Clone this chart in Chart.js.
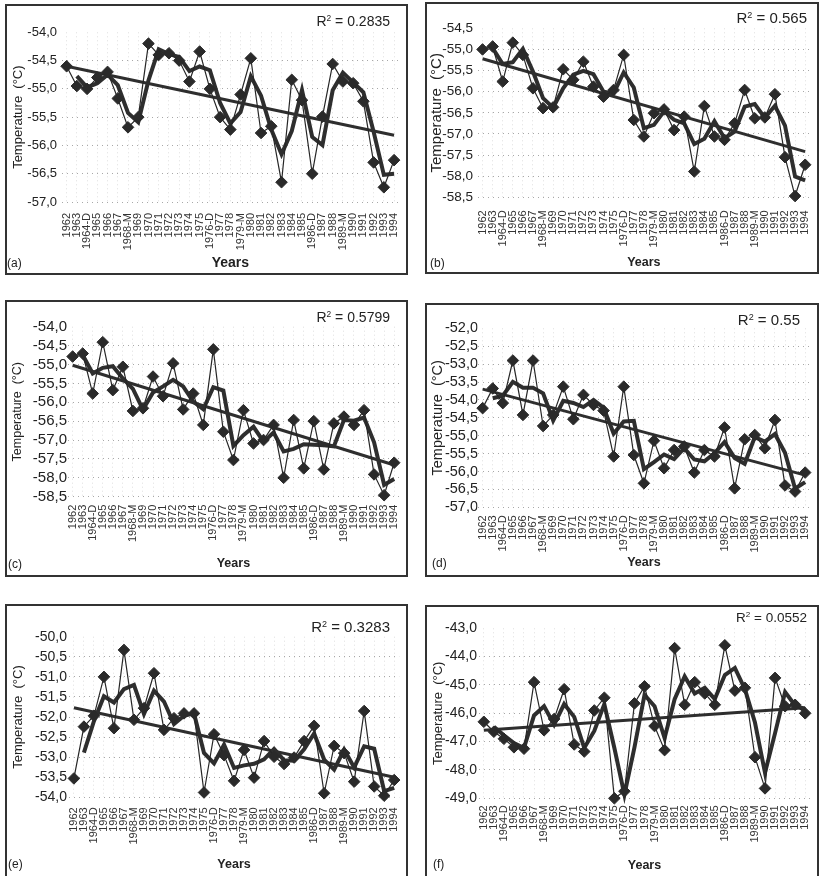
<!DOCTYPE html>
<html>
<head>
<meta charset="utf-8">
<script src="https://cdn.jsdelivr.net/npm/chart.js@4.4.0/dist/chart.umd.min.js"></script>
<style>
body { margin:0; width:819px; height:876px; overflow:hidden; background:#fff; position:relative;
       font-family:"Liberation Sans", Arial, sans-serif; color:#222; }
.panel { position:absolute; border:2px solid #333; box-sizing:border-box; background:#fff; }
.panel canvas { position:absolute; left:0; top:0; }
.r2, .tag { position:absolute; white-space:nowrap; line-height:1; }
.r2 sup { font-size:0.6em; vertical-align:0.6em; line-height:0; }
</style>
</head>
<body>
<script>
//categories
var years = ['1962','1963','1964-D','1965','1966','1967','1968-M','1969','1970','1971','1972','1973','1974','1975',
  '1976-D','1977','1978','1979-M','1980','1981','1982','1983','1984','1985','1986-D','1987','1988','1989-M',
  '1990','1991','1992','1993','1994'];

//temperature series (°C), one per panel
var tempA = [-54.6,-54.95,-55.0,-54.8,-54.7,-55.17,-55.68,-55.5,-54.2,-54.4,-54.37,-54.5,-54.87,-54.34,-55.0,-55.5,
  -55.72,-55.1,-54.46,-55.78,-55.66,-56.65,-54.84,-55.2,-56.5,-55.49,-54.56,-54.87,-54.9,-55.22,-56.3,-56.74,-56.26];
var tempB = [-55.0,-54.93,-55.76,-54.84,-55.13,-55.92,-56.39,-56.37,-55.47,-55.72,-55.29,-55.88,-56.12,-55.96,-55.13,-56.67,
  -57.06,-56.51,-56.42,-56.91,-56.59,-57.89,-56.34,-57.06,-57.14,-56.75,-55.96,-56.63,-56.61,-56.06,-57.55,-58.47,-57.73];
var tempC = [-54.79,-54.71,-55.77,-54.41,-55.68,-55.06,-56.23,-56.16,-55.32,-55.84,-54.97,-56.19,-55.77,-56.6,-54.6,-56.78,
  -57.53,-56.21,-57.09,-57.0,-56.6,-58.0,-56.47,-57.75,-56.5,-57.78,-56.56,-56.38,-56.6,-56.21,-57.91,-58.46,-57.6];
var tempD = [-54.23,-53.68,-54.09,-52.9,-54.42,-52.9,-54.73,-54.42,-53.63,-54.54,-53.86,-54.14,-54.3,-55.58,-53.63,-55.54,
  -56.33,-55.14,-55.91,-55.4,-55.3,-56.03,-55.4,-55.58,-54.77,-56.47,-55.1,-54.98,-55.35,-54.56,-56.39,-56.56,-56.03];
var tempE = [-53.53,-52.24,-51.97,-51.0,-52.28,-50.33,-52.07,-51.78,-50.91,-52.32,-52.03,-51.91,-51.91,-53.88,-52.43,-52.95,
  -53.59,-52.82,-53.51,-52.6,-52.99,-53.17,-53.01,-52.6,-52.22,-53.9,-52.72,-52.9,-53.61,-51.85,-53.73,-53.96,-53.57];
var tempF = [-46.3,-46.65,-46.9,-47.2,-47.25,-44.9,-46.6,-46.2,-45.15,-47.1,-47.35,-45.9,-45.45,-49.0,-48.75,-45.65,
  -45.05,-46.45,-47.3,-43.7,-45.7,-44.9,-45.3,-45.7,-43.6,-45.2,-45.1,-47.55,-48.65,-44.75,-45.75,-45.7,-46.0];

//linear trend, value at first and last year
var trendA = [-54.6, -55.82];
var trendB = [-55.22, -57.42];
var trendC = [-55.02, -57.66];
var trendD = [-53.7, -56.1];
var trendE = [-51.77, -53.5];
var trendF = [-46.6, -45.8];

//R squared labels
var r2Text = ['0.2835', '0.565', '0.5799', '0.55', '0.3283', '0.0552'];

//y axis range per panel: min, max, step
var yRangeA = [-57, -54, 0.5];
var yRangeB = [-58.5, -54.5, 0.5];
var yRangeC = [-58.5, -54, 0.5];
var yRangeD = [-57, -52, 0.5];
var yRangeE = [-54, -50, 0.5];
var yRangeF = [-49, -43, 1];

Chart.defaults.font.family = '"Liberation Sans", Arial, sans-serif';
Chart.defaults.color = '#222';

//layout of each panel on the page (pixels)
var panels = [
  {tag:'(a)', data:tempA, trend:trendA, r2:r2Text[0], y:yRangeA, box:[5,4,408,275], plotX:[61.5,401.9], plotY:[32.3,202],
   labelRight:57, xPad:11, tickFont:13, titleFont:13, titleCx:18, yearsFont:14, yearsY:263, r2Right:390, r2Y:21, r2Font:14, tagX:7, tagY:263},
  {tag:'(b)', data:tempB, trend:trendB, r2:r2Text[1], y:yRangeB, box:[425,2,819,274], plotX:[477.5,817], plotY:[28.3,197.3],
   labelRight:473, xPad:13, tickFont:13.5, titleFont:15, titleCx:437, yearsFont:12.5, yearsY:263, r2Right:807, r2Y:17, r2Font:15, tagX:430, tagY:263},
  {tag:'(c)', data:tempC, trend:trendC, r2:r2Text[2], y:yRangeC, box:[5,300,408,577], plotX:[67.6,401.8], plotY:[326.7,496.7],
   labelRight:67, xPad:8, tickFont:15, titleFont:12.5, titleCx:18, yearsFont:12.5, yearsY:564, r2Right:390, r2Y:317, r2Font:14, tagX:8, tagY:564},
  {tag:'(d)', data:tempD, trend:trendD, r2:r2Text[3], y:yRangeD, box:[425,303,819,577], plotX:[477.6,811.8], plotY:[328.3,507.3],
   labelRight:478, xPad:8, tickFont:14.5, titleFont:14.5, titleCx:438, yearsFont:12.5, yearsY:563, r2Right:800, r2Y:319, r2Font:15, tagX:432, tagY:563},
  {tag:'(e)', data:tempE, trend:trendE, r2:r2Text[4], y:yRangeE, box:[5,604,408,882], plotX:[68.9,403.1], plotY:[636.7,797.3],
   labelRight:67, xPad:10, tickFont:14, titleFont:13, titleCx:18, yearsFont:12.5, yearsY:865, r2Right:390, r2Y:626, r2Font:15, tagX:8, tagY:864},
  {tag:'(f)', data:tempF, trend:trendF, r2:r2Text[5], y:yRangeF, box:[425,605,819,882], plotX:[478.8,817], plotY:[628.3,798.3],
   labelRight:477, xPad:7, tickFont:14, titleFont:13, titleCx:438, yearsFont:12.5, yearsY:866, r2Right:807, r2Y:618, r2Font:13.5, tagX:433, tagY:864}
];

//2 period moving average
function movingAverage(values){
  var out = [null];
  for(var i = 1; i < values.length; i++){
    out.push((values[i-1] + values[i]) / 2);
  }
  return out;
}
//trend line as first/last values, gap spanned
function trendSeries(ends){
  var out = years.map(function(){ return null; });
  out[0] = ends[0];
  out[out.length-1] = ends[1];
  return out;
}
function decimalComma(v){
  return v.toFixed(1).replace('.', ',');
}

function buildPanel(p){
  var L = p.box[0], T = p.box[1], W = p.box[2] - p.box[0], H = p.box[3] - p.box[1];
  var div = document.createElement('div');
  div.className = 'panel';
  div.style.left = L + 'px'; div.style.top = T + 'px';
  div.style.width = W + 'px'; div.style.height = H + 'px';
  document.body.appendChild(div);

  var cw = W - 4, ch = H - 4, ox = L + 2, oy = T + 2;
  var canvas = document.createElement('canvas');
  canvas.width = cw; canvas.height = ch;
  canvas.style.width = cw + 'px'; canvas.style.height = ch + 'px';
  div.appendChild(canvas);

  var left = p.plotX[0] - ox, right = p.plotX[1] - ox;
  var top = p.plotY[0] - oy, bottom = p.plotY[1] - oy;
  var yTitleLH = p.titleFont * 1.2;
  var yearsLH = p.yearsFont * 1.2;
  var yMax = p.y[1];

  new Chart(canvas, {
    type: 'line',
    data: {
      labels: years,
      datasets: [
        {data: p.data, borderColor: '#262626', borderWidth: 1.2, pointStyle: 'rectRot', pointRadius: 5.8,
         pointBackgroundColor: '#2a2a2a', pointBorderColor: '#2a2a2a', pointBorderWidth: 1, tension: 0, clip: false},
        {data: movingAverage(p.data), borderColor: '#2e2e2e', borderWidth: 4, pointRadius: 0, tension: 0, clip: false},
        {data: trendSeries(p.trend), borderColor: '#2e2e2e', borderWidth: 3, pointRadius: 0, spanGaps: true, clip: false}
      ]
    },
    options: {
      responsive: false,
      animation: false,
      events: [],
      layout: {padding: {top: top, right: Math.max(cw - right, 0), left: 0, bottom: 0}},
      plugins: {legend: {display: false}, tooltip: {enabled: false}},
      scales: {
        x: {
          offset: true,
          grid: {color: 'rgba(0,0,0,0.13)', lineWidth: 1, drawTicks: false},
          border: {display: false, dash: [1, 3]},
          ticks: {autoSkip: false, maxRotation: 90, minRotation: 90, padding: p.xPad, font: {size: 11}, color: '#333'},
          title: {display: true, text: 'Years', font: {size: p.yearsFont, weight: 'bold'}, color: '#222',
                  padding: {top: 0, bottom: Math.max((oy + ch) - p.yearsY - yearsLH / 2, 0)}},
          afterFit: function(s){ s.height = ch - bottom; s.paddingLeft = 0; s.paddingRight = 0; }
        },
        y: {
          min: p.y[0], max: yMax,
          grid: {color: function(c){ return c.tick && c.tick.value === yMax ? 'rgba(0,0,0,0)' : '#a8a8a8'; },
                 lineWidth: 1, drawTicks: false},
          border: {display: false, dash: [1, 4]},
          ticks: {autoSkip: false, stepSize: p.y[2], padding: left - (p.labelRight - ox), font: {size: p.tickFont}, color: '#222',
                  callback: function(v){ return decimalComma(v); }},
          title: {display: true, text: 'Temperature  (°C)', font: {size: p.titleFont}, color: '#222',
                  padding: {top: Math.max(p.titleCx - ox - yTitleLH / 2, 0), bottom: 0}},
          afterFit: function(s){ s.width = left; s.paddingTop = 0; s.paddingBottom = 0; }
        }
      }
    }
  });

  //R squared text
  var r2 = document.createElement('div');
  r2.className = 'r2';
  r2.style.fontSize = p.r2Font + 'px';
  r2.style.right = (819 - p.r2Right) + 'px';
  r2.style.top = (p.r2Y - p.r2Font / 2) + 'px';
  r2.innerHTML = 'R<sup>2</sup> = ' + p.r2;
  document.body.appendChild(r2);

  //panel letter
  var tag = document.createElement('div');
  tag.className = 'tag';
  tag.style.fontSize = '12px';
  tag.style.left = p.tagX + 'px';
  tag.style.top = (p.tagY - 6) + 'px';
  tag.textContent = p.tag;
  document.body.appendChild(tag);
}

panels.forEach(buildPanel);
</script>
</body>
</html>
